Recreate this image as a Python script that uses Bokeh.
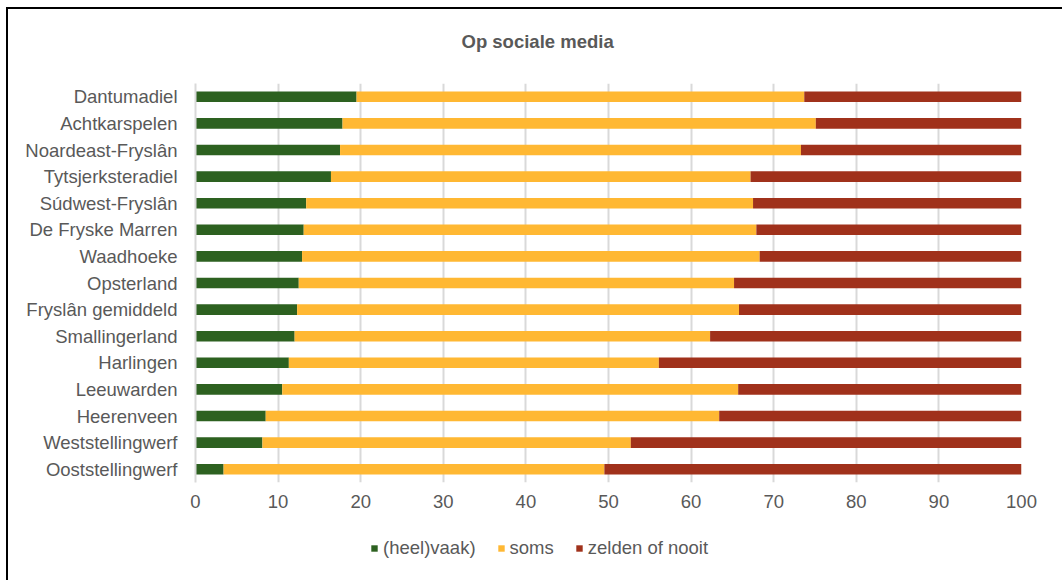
from bokeh.plotting import figure
from bokeh.layouts import column
from bokeh.models import (FactorRange, ColumnDataSource, Legend, LegendItem, Range1d, FixedTicker, Label)
from bokeh.embed import file_html
from bokeh.resources import INLINE

gemeenten = ["Dantumadiel", "Achtkarspelen", "Noardeast-Fryslân", "Tytsjerksteradiel",
             "Súdwest-Fryslân", "De Fryske Marren", "Waadhoeke", "Opsterland",
             "Fryslân gemiddeld", "Smallingerland", "Harlingen", "Leeuwarden",
             "Heerenveen", "Weststellingwerf", "Ooststellingwerf"]
heelvaak = [19.5, 17.8, 17.5, 16.4, 13.4, 13.1, 12.9, 12.5, 12.3, 12.0, 11.3, 10.5, 8.5, 8.1, 3.4]
soms = [54.2, 57.3, 55.8, 50.8, 54.1, 54.8, 55.4, 52.7, 53.5, 50.3, 44.8, 55.2, 54.9, 44.6, 46.1]
zelden = [26.3, 24.9, 26.7, 32.8, 32.5, 32.1, 31.7, 34.8, 34.2, 37.7, 43.9, 34.3, 36.6, 47.3, 50.5]
x_ticks = [0, 10, 20, 30, 40, 50, 60, 70, 80, 90, 100]
series = ["heelvaak", "soms", "zelden"]
series_labels = ["(heel)vaak)", "soms", "zelden of nooit"]
colors = ["#2d6120", "#ffb833", "#a0311b"]
title_text = "Op sociale media"

source = ColumnDataSource(dict(gemeente=gemeenten, heelvaak=heelvaak, soms=soms, zelden=zelden))

FONT = "Liberation Sans"
GREY = "#595959"
FS = "18.5px"

# title strip
p0 = figure(width=1054, height=74, output_backend="svg", toolbar_location=None, title=None,
            x_range=Range1d(0, 1), y_range=Range1d(0, 1),
            x_axis_type=None, y_axis_type=None, min_border=0)
p0.outline_line_color = None
p0.xgrid.grid_line_color = None
p0.ygrid.grid_line_color = None
p0.add_layout(Label(x=266, y=42, x_units="screen", y_units="screen", text=title_text,
                    text_font=FONT, text_font_size=FS, text_font_style="bold",
                    text_color=GREY, text_baseline="middle", text_align="left"))

# main chart
p = figure(width=1054, height=447, output_backend="svg", toolbar_location=None, title=None,
           y_range=FactorRange(factors=gemeenten[::-1], range_padding=0),
           x_range=Range1d(0, 100))

p.hbar_stack(series, y="gemeente", height=0.4, color=colors, line_color=None, source=source)

p.min_border_top = 0
p.min_border_left = 187
p.min_border_right = 41
p.min_border_bottom = 48

p.outline_line_color = None
p.background_fill_color = "white"
p.border_fill_color = "white"

p.xaxis.ticker = FixedTicker(ticks=x_ticks)
p.xaxis.axis_line_color = None
p.xaxis.major_tick_line_color = None
p.xaxis.minor_tick_line_color = None
p.xaxis.major_label_text_font = FONT
p.xaxis.major_label_text_font_size = FS
p.xaxis.major_label_text_color = GREY
p.xaxis.major_label_standoff = 6

p.yaxis.axis_line_color = "#d9d9d9"
p.yaxis.axis_line_width = 2
p.yaxis.major_tick_line_color = None
p.yaxis.minor_tick_line_color = None
p.yaxis.major_label_text_font = FONT
p.yaxis.major_label_text_font_size = FS
p.yaxis.major_label_text_color = GREY
p.yaxis.major_label_standoff = 12

p.xgrid.grid_line_color = "#d9d9d9"
p.xgrid.grid_line_width = 2
p.ygrid.grid_line_color = None

# legend strip below the chart (zero-height bars outside the visible range, only supply legend glyphs)
p2 = figure(width=1054, height=50, output_backend="svg", toolbar_location=None, title=None,
            x_range=Range1d(200, 300), y_range=FactorRange(factors=gemeenten[::-1]),
            x_axis_type=None, y_axis_type=None, min_border=0)
p2.outline_line_color = None
p2.xgrid.grid_line_color = None
p2.ygrid.grid_line_color = None
legend_renderers = p2.hbar_stack(series, y="gemeente", height=0, color=colors, line_color=None, source=source)

legend = Legend(items=[LegendItem(label=l, renderers=[r]) for l, r in zip(series_labels, legend_renderers)],
                orientation="horizontal", location=(175, 21),
                label_text_font=FONT, label_text_font_size=FS, label_text_color=GREY,
                glyph_width=8, glyph_height=8, spacing=21, label_standoff=5,
                border_line_color=None, background_fill_alpha=0, margin=0, padding=0)
p2.add_layout(legend, "center")

layout = column(p0, p, p2, spacing=0,
                styles={"border-left": "2px solid #000000", "border-top": "2px solid #000000",
                        "position": "relative", "left": "6px", "top": "7px"})

open("out.html", "w").write(file_html(layout, INLINE))
